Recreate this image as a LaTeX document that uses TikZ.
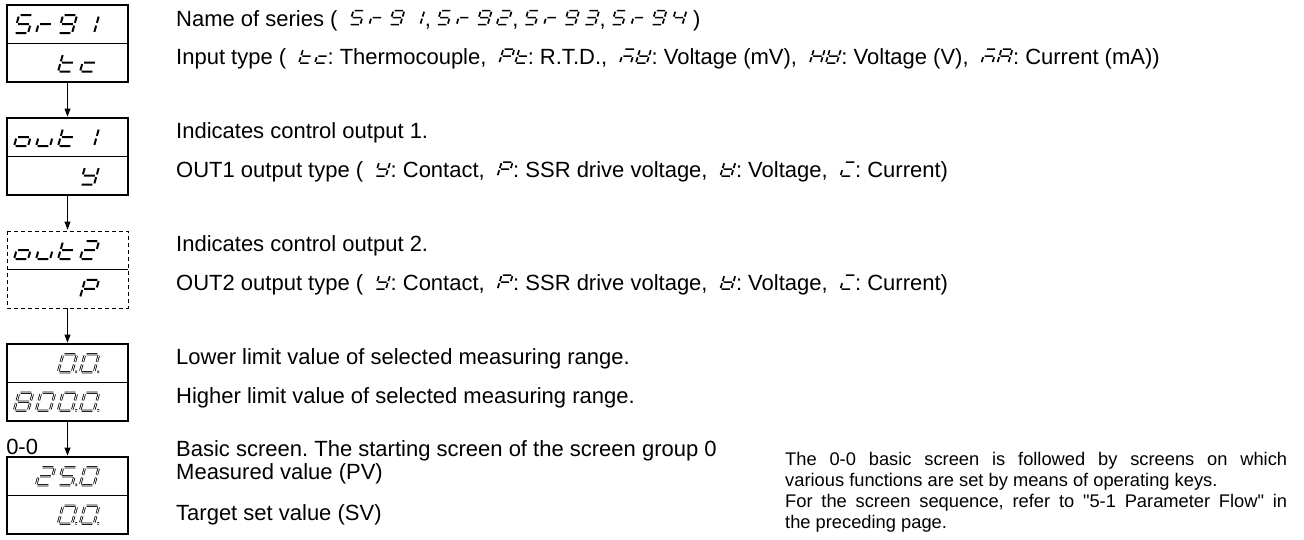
\documentclass[tikz,border=0pt]{standalone}
\usepackage{fontspec}
\setmainfont{Liberation Sans}
\usetikzlibrary{arrows.meta,positioning,calc}

% seven segment glyphs
\tikzset{
  lcdline/.style={line width=2pt},
  lcdhollow/.style={line width=0.8pt,double=white,double distance=0.8pt},
  sa/.style={insert path={(1.2,16)--(8.8,16)}},
  sb/.style={insert path={(10,14.8)--(10,9.2)}},
  sc/.style={insert path={(10,6.8)--(10,1.2)}},
  sd/.style={insert path={(1.2,0)--(8.8,0)}},
  se/.style={insert path={(0,1.2)--(0,6.8)}},
  sf/.style={insert path={(0,9.2)--(0,14.8)}},
  sg/.style={insert path={(1.2,8)--(8.8,8)}},
  sp/.style={insert path={(12.4,0.3)--(13.6,0.3)}},
  lcd x/.style={},
  lcd 0/.style={sa,sb,sc,sd,se,sf},
  lcd 1/.style={sb,sc},
  lcd 2/.style={sa,sb,sg,se,sd},
  lcd 3/.style={sa,sb,sg,sc,sd},
  lcd 4/.style={sf,sg,sb,sc},
  lcd 5/.style={sa,sf,sg,sc,sd},
  lcd 8/.style={sa,sb,sc,sd,se,sf,sg},
  lcd 9/.style={sa,sb,sc,sd,sf,sg},
  lcd 0p/.style={lcd 0,sp},
  lcd 5p/.style={lcd 5,sp},
  lcd r/.style={se,sg},
  lcd t/.style={sd,se,sf,sg},
  lcd c/.style={sd,se,sg},
  lcd o/.style={sc,sd,se,sg},
  lcd u/.style={sc,sd,se},
  lcd y/.style={sb,sc,sd,sf,sg},
  lcd P/.style={sa,sb,se,sf,sg},
  lcd m/.style={sa,sc,se,sg},
  lcd V/.style={sb,sc,sd,se,sf,sg},
  lcd H/.style={sb,sc,se,sf,sg},
  lcd A/.style={sa,sb,sc,se,sf,sg},
  lcd I/.style={sa,se,sd}
}

% glyphs in a display half
\newcommand{\lcdrow}[3][lcdline]{%
  \foreach \ch [count=\k] in {#3}
    \draw[#1,shift={($(#2.west)+(22*\k-15,-9)$)},xslant=0.28,yscale=1.125,xscale=1.4,lcd \ch];}

% glyphs inside a line of text
\newcommand{\lcdin}[2][16]{\hspace{6pt}\tikz[baseline=0pt,x=1pt,y=1pt]{%
  \foreach \ch [count=\k] in {#2}
    \draw[lcdline,line width=1.7pt,shift={(#1*\k-#1,1.5)},xslant=0.3,yscale=0.875,xscale=1.1,lcd \ch];}}

\begin{document}
\frenchspacing
\begin{tikzpicture}[x=1pt,y=1pt,node distance=36pt,
  half/.style={minimum width=121pt,minimum height=38.5pt,inner sep=0pt,outer sep=0pt},
  frame/.style={line width=2.8pt},
  dashframe/.style={line width=0.9pt,dash pattern=on 4pt off 3pt},
  divider/.style={line width=1.8pt},
  flow/.style={-{Triangle[length=8pt,width=6pt]},line width=0.9pt,shorten >=1.4pt},
  desc/.style={anchor=west,inner sep=0pt,font=\fontsize{22}{26}\selectfont},
  note/.style={anchor=north west,inner sep=0pt,text width=502pt,align=justify,
    font=\fontsize{18.3}{21}\selectfont}]

\useasboundingbox (0,0) rectangle (1304,-540);

% displays
\node[half,anchor=north west] (series) at (7,-5) {};
\node[half,below=0pt of series] (input) {};
\node[half,below=of input] (out1) {};
\node[half,below=0pt of out1] (type1) {};
\node[half,below=of type1] (out2) {};
\node[half,below=0pt of out2] (type2) {};
\node[half,below=of type2] (low) {};
\node[half,below=0pt of low] (high) {};
\node[half,below=of high] (pv) {};
\node[half,below=0pt of pv] (sv) {};

\draw[frame] (series.north west) rectangle (input.south east);
\draw[divider] (series.south west) -- (series.south east);
\draw[frame] (out1.north west) rectangle (type1.south east);
\draw[divider] (out1.south west) -- (out1.south east);
\draw[dashframe] (out2.north west) rectangle (type2.south east);
\draw[divider] (out2.south west) -- (out2.south east);
\draw[frame] (low.north west) rectangle (high.south east);
\draw[divider] (low.south west) -- (low.south east);
\draw[frame] (pv.north west) rectangle (sv.south east);
\draw[divider] (pv.south west) -- (pv.south east);

\lcdrow{series}{5,r,9,1}
\lcdrow{input}{x,x,t,c}
\lcdrow{out1}{o,u,t,1}
\lcdrow{type1}{x,x,x,y}
\lcdrow{out2}{o,u,t,2}
\lcdrow{type2}{x,x,x,P}
\lcdrow[lcdhollow]{low}{x,x,0p,0p}
\lcdrow[lcdhollow]{high}{8,0,0p,0p}
\lcdrow[lcdhollow]{pv}{x,2,5p,0}
\lcdrow[lcdhollow]{sv}{x,x,0p,0p}

% flow
\draw[flow] (input.south) -- (out1.north);
\draw[flow] (type1.south) -- (out2.north);
\draw[flow] (type2.south) -- (low.north);
\draw[flow] (high.south) -- node[pos=0.72,left=29pt,inner sep=0pt,
  font=\fontsize{22}{26}\selectfont] (grp) {0-0} (pv.north);

% descriptions
\node[desc,right=48pt of series,yshift=4pt] (dseries) {Name of series ( \lcdin[20]{5,r,9,1},\lcdin[20]{5,r,9,2},\lcdin[20]{5,r,9,3},\lcdin[20]{5,r,9,4} )};
\node[desc,right=48pt of input,yshift=4pt] (dinput) {Input type ( \lcdin{t,c}: Thermocouple, \lcdin{P,t}: R.T.D., \lcdin{m,V}: Voltage (mV), \lcdin{H,V}: Voltage (V), \lcdin{m,A}: Current (mA))};
\node[desc,right=48pt of out1,yshift=4pt] (dout1) {Indicates control output 1.};
\node[desc,right=48pt of type1,yshift=4pt] (dtype1) {OUT1 output type ( \lcdin{y}: Contact, \lcdin{P}: SSR drive voltage, \lcdin{V}: Voltage, \lcdin{I}: Current)};
\node[desc,right=48pt of out2,yshift=4pt] (dout2) {Indicates control output 2.};
\node[desc,right=48pt of type2,yshift=4pt] (dtype2) {OUT2 output type ( \lcdin{y}: Contact, \lcdin{P}: SSR drive voltage, \lcdin{V}: Voltage, \lcdin{I}: Current)};
\node[desc,right=48pt of low,yshift=4pt] (dlow) {Lower limit value of selected measuring range.};
\node[desc,right=48pt of high,yshift=4pt] (dhigh) {Higher limit value of selected measuring range.};
\node[desc,right=48pt of pv,yshift=2pt] (dpv) {Measured value (PV)};
\node[desc] (dbasic) at ([yshift=23pt]dpv.west) {Basic screen. The starting screen of the screen group 0};
\node[desc,right=48pt of sv] (dsv) {Target set value (SV)};

\node[note] (note) at (785,-452) {The 0-0 basic screen is followed by screens on which\linebreak
various functions are set by means of operating keys.\\
For the screen sequence, refer to \textquotedbl 5-1 Parameter Flow\textquotedbl{} in\linebreak
the preceding page.};
\end{tikzpicture}
\end{document}
